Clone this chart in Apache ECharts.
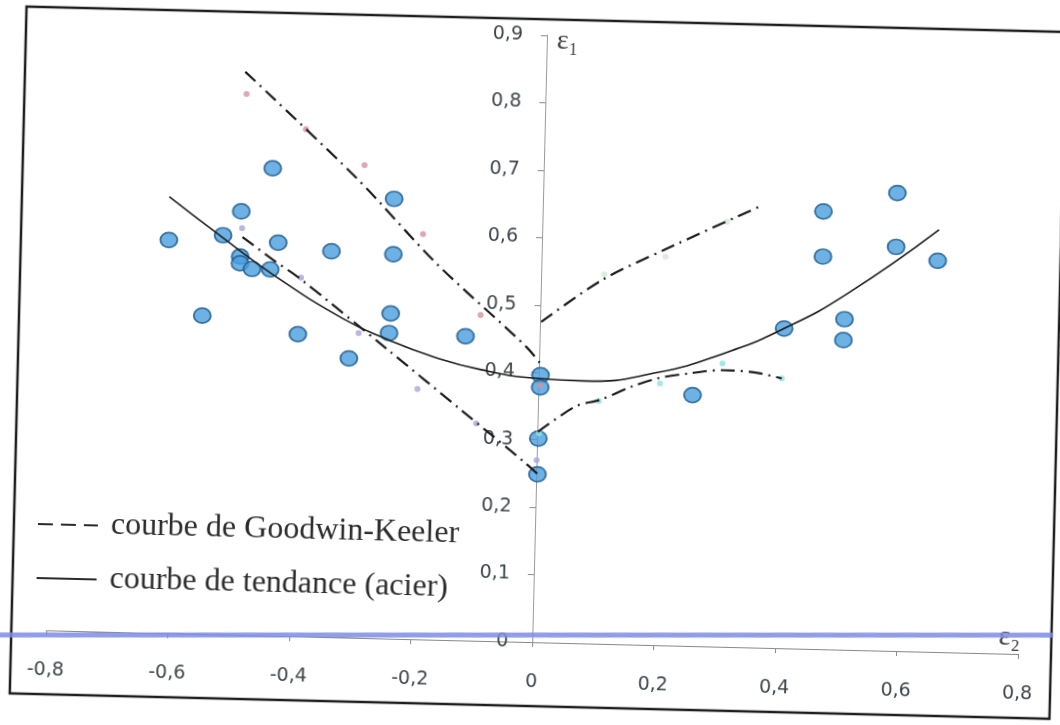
<!DOCTYPE html>
<html>
<head>
<meta charset="utf-8">
<script src="https://cdn.jsdelivr.net/npm/echarts@6/dist/echarts.min.js"></script>
<style>
  html, body { margin: 0; padding: 0; background: #ffffff; overflow: hidden; }
  #chart { width: 1060px; height: 725px; transform: rotate(1.4deg); transform-origin: 50% 50%; }
</style>
</head>
<body>
<div id="chart"></div>
<script>
// ---------- data ----------
const xTickLabels = ['-0,8', '-0,6', '-0,4', '-0,2', '0', '0,2', '0,4', '0,6', '0,8'];
const yTickLabels = ['0', '0,1', '0,2', '0,3', '0,4', '0,5', '0,6', '0,7', '0,8', '0,9'];

// measured points (steel) – big blue markers
const acierX = [-0.614, -0.556, -0.525, -0.496, -0.496, -0.496, -0.476, -0.446, -0.446, -0.434,
                -0.398, -0.346, -0.313, -0.245, -0.244, -0.246, -0.248, -0.122,
                0.003, 0.003, 0.002, 0.002,
                0.254, 0.402, 0.462, 0.463, 0.501, 0.500, 0.583, 0.583, 0.652];
const acierY = [0.583, 0.472, 0.592, 0.628, 0.561, 0.551, 0.543, 0.693, 0.543, 0.583,
                0.448, 0.572, 0.414, 0.652, 0.570, 0.482, 0.453, 0.451,
                0.396, 0.378, 0.302, 0.249,
                0.372, 0.474, 0.649, 0.582, 0.490, 0.459, 0.679, 0.599, 0.580];

// small Goodwin-Keeler points
const pinkX = [-0.492, -0.393, -0.295, -0.196, -0.098, 0.003];
const pinkY = [0.802, 0.752, 0.701, 0.601, 0.483, 0.381];
const purpleX = [-0.494, -0.395, -0.298, -0.199, -0.101, 0.0];
const purpleY = [0.603, 0.532, 0.452, 0.371, 0.322, 0.270];
const greenX = [0.104, 0.204, 0.304];
const greenY = [0.548, 0.576, 0.630];
const cyanX = [0.003, 0.100, 0.200, 0.302, 0.400];
const cyanY = [0.310, 0.360, 0.388, 0.420, 0.400];

// Goodwin-Keeler curves
const gkAX = [-0.495, -0.307, -0.173, -0.022, 0.005];
const gkAY = [0.835, 0.681, 0.558, 0.438, 0.410];
const gkBX = [-0.493, -0.443, -0.396, -0.249, -0.127, -0.018, 0.005];
const gkBY = [0.590, 0.558, 0.530, 0.428, 0.342, 0.265, 0.247];
const gkCX = [0.002, 0.100, 0.201, 0.357];
const gkCY = [0.475, 0.539, 0.586, 0.654];
const gkDX = [0.001, 0.062, 0.103, 0.155, 0.198, 0.247, 0.302, 0.354, 0.400];
const gkDY = [0.312, 0.351, 0.362, 0.383, 0.396, 0.404, 0.410, 0.408, 0.400];

// trend curve (steel)
const trendX = [-0.615, -0.525, -0.444, -0.323, -0.249, -0.180, -0.095, 0.000, 0.075, 0.194, 0.307, 0.402, 0.503, 0.653];
const trendY = [0.647, 0.588, 0.537, 0.472, 0.443, 0.421, 0.402, 0.391, 0.389, 0.404, 0.436, 0.474, 0.527, 0.626];

const GK_NAME = 'courbe de Goodwin-Keeler';
const TREND_NAME = 'courbe de tendance (acier)';

// ---------- helpers ----------
const pairs = (xs, ys) => xs.map((x, i) => [x, ys[i]]);

const smallPoints = (name, xs, ys, color) => ({
  name: name, type: 'scatter', data: pairs(xs, ys), symbol: 'circle', symbolSize: 6,
  itemStyle: { color: color }, z: 4, silent: true
});
const gkLine = (xs, ys) => ({
  name: GK_NAME, type: 'line', data: pairs(xs, ys), symbol: 'none', smooth: 0.3,
  itemStyle: { color: '#1c1c1c' },
  lineStyle: { color: '#1c1c1c', width: 2.2, type: [14, 6, 2, 6] }, z: 5
});

const GRID = { left: 53, right: 35, top: 35, bottom: 83 };
const plotW = 1060 - GRID.left - GRID.right;
const xMin = -0.8, xMax = 0.8;
// y axis is drawn at x = 0 of the horizontal axis
const yAxisOffset = -plotW * (0 - xMin) / (xMax - xMin);

const chart = echarts.init(document.getElementById('chart'), null, { renderer: 'canvas' });
const theta = 1.4 * Math.PI / 180;
const hidden = { color: 'rgba(0,0,0,0)', borderColor: 'rgba(0,0,0,0)', borderWidth: 0, opacity: 0 };

chart.setOption({
  animation: false,
  backgroundColor: '#ffffff',
  grid: Object.assign({ containLabel: false }, GRID),
  xAxis: {
    type: 'value', min: xMin, max: xMax, interval: 0.2,
    name: 'ε₂', nameLocation: 'end', nameGap: -9,
    nameTextStyle: { fontFamily: 'Liberation Serif', fontSize: 28, color: '#3a3a3a',
                     align: 'center', verticalAlign: 'bottom', padding: [0, 0, 2, 0] },
    axisLine: { onZero: false, lineStyle: { color: '#8a8a8a', width: 1 } },
    axisTick: { show: true, inside: false, length: 5, lineStyle: { color: '#8a8a8a' } },
    splitLine: { show: false },
    axisLabel: {
      margin: 31, fontFamily: 'DejaVu Sans', fontSize: 19, color: '#3e454c',
      formatter: v => xTickLabels[Math.round((v - xMin) / 0.2)]
    }
  },
  yAxis: {
    type: 'value', min: 0, max: 0.9, interval: 0.1,
    position: 'left', offset: yAxisOffset,
    name: 'ε₁', nameLocation: 'end', nameGap: -6,
    nameTextStyle: { fontFamily: 'Liberation Serif', fontSize: 28, color: '#3a3a3a',
                     align: 'left', verticalAlign: 'middle', padding: [0, 0, 0, 10] },
    axisLine: { onZero: false, lineStyle: { color: '#9a9a9a', width: 1 } },
    axisTick: { show: true, inside: false, length: 6, lineStyle: { color: '#8a8a8a' } },
    splitLine: { show: false },
    axisLabel: {
      margin: 24, fontFamily: 'DejaVu Sans', fontSize: 19, color: '#3e454c',
      formatter: v => yTickLabels[Math.round(v / 0.1)]
    }
  },
  legend: {
    orient: 'vertical', left: 36, top: 515, itemWidth: 60, itemHeight: 14, itemGap: 22,
    textStyle: { fontFamily: 'Liberation Serif', fontSize: 32, color: '#2c2c2c', padding: [0, 0, 0, 8] },
    data: [
      { name: GK_NAME, itemStyle: hidden, lineStyle: { color: '#2a2a2a', width: 2, type: [15, 8], opacity: 1 } },
      { name: TREND_NAME, itemStyle: hidden, lineStyle: { color: '#2a2a2a', width: 2, type: 'solid', opacity: 1 } }
    ],
    selectedMode: false
  },
  graphic: [
    { type: 'rect', shape: { x: 18, y: 19, width: 1040, height: 687 },
      style: { fill: 'none', stroke: '#1e1e1e', lineWidth: 2.5 }, z: 100, silent: true },
    { type: 'rect', x: 536.7, y: 635, rotation: theta,
      shape: { x: -800, y: -2.5, width: 1600, height: 5 },
      style: { fill: 'rgba(125,140,228,0.85)' }, z: 101, silent: true }
  ],
  series: [
    {
      name: 'acier', type: 'scatter', data: pairs(acierX, acierY), symbol: 'circle', symbolSize: [17, 15],
      itemStyle: { color: '#4a9fdf', borderColor: '#1d5a8c', borderWidth: 1.8 }, z: 3, silent: true
    },
    smallPoints('gk-a', pinkX, pinkY, '#d3929d'),
    smallPoints('gk-b', purpleX, purpleY, '#a3a6d8'),
    smallPoints('gk-c', greenX, greenY, '#d2e8d2'),
    smallPoints('gk-d', cyanX, cyanY, '#8fe1e1'),
    gkLine(gkAX, gkAY),
    gkLine(gkBX, gkBY),
    gkLine(gkCX, gkCY),
    gkLine(gkDX, gkDY),
    {
      name: TREND_NAME, type: 'line', data: pairs(trendX, trendY), symbol: 'none', smooth: 0.5,
      itemStyle: { color: '#1c1c1c' },
      lineStyle: { color: '#1c1c1c', width: 1.6, type: 'solid' }, z: 6
    }
  ]
});
</script>
</body>
</html>
